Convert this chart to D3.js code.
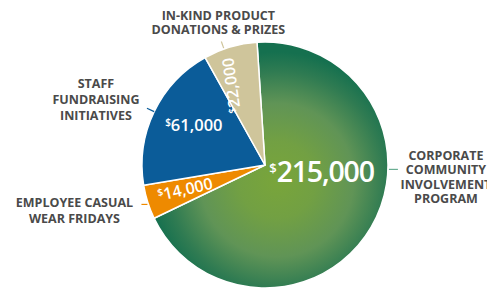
<!DOCTYPE html>
<html><head><meta charset="utf-8">
<script src="https://cdn.jsdelivr.net/npm/d3@7"></script>
<style>
html,body{margin:0;padding:0;background:#fff;}
svg{display:block;}
text{font-family:"Open Sans",sans-serif;}
</style></head>
<body><svg id="c" width="487" height="289"></svg>
<script>
// ---- data ----
const categories = ["CORPORATE COMMUNITY INVOLVEMENT PROGRAM","EMPLOYEE CASUAL WEAR FRIDAYS","STAFF FUNDRAISING INITIATIVES","IN-KIND PRODUCT DONATIONS & PRIZES"];
const values = [215000, 14000, 61000, 22000];
const valueLabels = ["215,000","14,000","61,000","22,000"];
const labelLines = [
  ["CORPORATE","COMMUNITY","INVOLVEMENT","PROGRAM"],
  ["EMPLOYEE CASUAL","WEAR FRIDAYS"],
  ["STAFF","FUNDRAISING","INITIATIVES"],
  ["IN-KIND PRODUCT","DONATIONS & PRIZES"]
];
const colors = ["url(#gGreen)","#ee8a00","#0b5c99","#cfc59b"];
const leaderColors = ["#6aae93","#ee8a00","#0b5c99","#cfc59b"];

// ---- layout ----
const W=487,H=289, cx=265, cy=165, R=123;
const svg=d3.select("#c");
const defs=svg.append("defs");
const grad=defs.append("radialGradient").attr("id","gGreen")
  .attr("gradientUnits","userSpaceOnUse").attr("cx",12).attr("cy",15).attr("r",128);
[[0,"#79a53a"],[0.3,"#72a043"],[0.6,"#609456"],[0.85,"#2f7b52"],[1,"#15704f"]].forEach(s=>
  grad.append("stop").attr("offset",s[0]).attr("stop-color",s[1]));

const a0=-0.065;
const pie=d3.pie().sort(null).startAngle(a0).endAngle(a0+2*Math.PI);
const arcs=pie(values);
const arc=d3.arc().innerRadius(0).outerRadius(R);
const g=svg.append("g").attr("transform",`translate(${cx},${cy})`);
g.selectAll("path.s").data(arcs).join("path").attr("class","s")
  .attr("d",arc).attr("fill",(d,i)=>colors[i])
  .attr("stroke","#fff").attr("stroke-width",1.5).attr("stroke-linejoin","round");

function polar(a,r){return [r*Math.sin(a), -r*Math.cos(a)];}

// value labels: [fraction of slice span, radius, rotation, font size, dollar size, letter spacing]
const vconf=[[0.445,59,0,28.5,13,-1.2],[0.3,84,-13,16,10,0],[0.5,79,0,16.5,10,0],[0.39,85,-98,16,10,0]];
arcs.forEach((d,i)=>{
  const c=vconf[i];
  const a=d.startAngle+c[0]*(d.endAngle-d.startAngle);
  const p=polar(a,c[1]);
  const t=g.append("text").attr("transform",`translate(${p[0]},${p[1]}) rotate(${c[2]})`)
    .attr("text-anchor","middle").attr("fill","#fff").attr("font-weight",600)
    .attr("dy","0.36em");
  t.append("tspan").attr("font-size",c[4]).attr("dy",-(c[3]*0.3)).text("$");
  t.append("tspan").attr("font-size",c[3]).attr("dy",c[3]*0.3).attr("letter-spacing",c[5]).text(valueLabels[i]);
});

// leaders: [angle fraction, inner r, length, horizontal?]
const lconf=[[0.386,R+1,9,true],[0.44,R+1,6,true],[0.5,R,8,false],[0.38,R+1,7,false]];
// label offsets from leader end: [dx, dy of first baseline, line height]
const tconf=[[48,-9.5,14.5],[-67,2.7,16],[-51,-20.7,16],[-3,-21.7,14.3]];
arcs.forEach((d,i)=>{
  const c=lconf[i];
  const a=d.startAngle+c[0]*(d.endAngle-d.startAngle);
  const p1=polar(a,c[1]);
  let p2;
  if(c[3]){ p2=[p1[0]+Math.sign(p1[0])*c[2], p1[1]]; }
  else { p2=polar(a,c[1]+c[2]); }
  g.append("line").attr("x1",p1[0]).attr("y1",p1[1]).attr("x2",p2[0]).attr("y2",p2[1])
    .attr("stroke",leaderColors[i]).attr("stroke-width",1.2);
  const tc=tconf[i];
  const t=g.append("text").attr("text-anchor","middle").attr("fill","#4a4a4a")
    .attr("font-weight",700).attr("font-size",12.5);
  labelLines[i].forEach((ln,j)=>t.append("tspan").attr("x",p2[0]+tc[0]).attr("y",p2[1]+tc[1]+j*tc[2]).text(ln));
});
</script></body></html>
